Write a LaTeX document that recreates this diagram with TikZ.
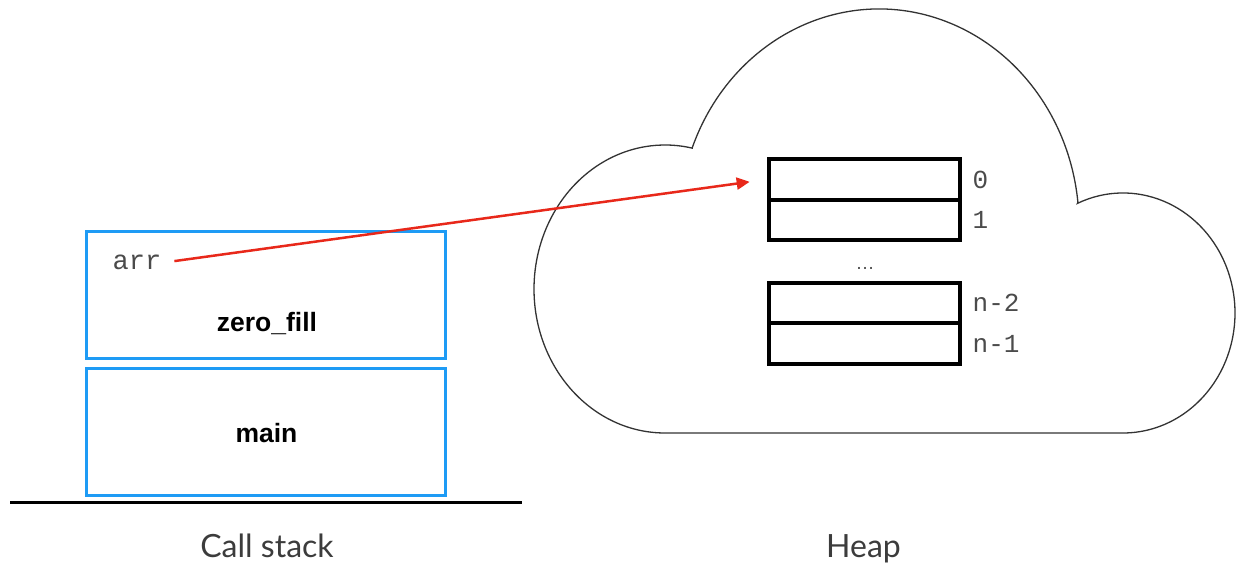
\documentclass[tikz,border=0pt]{standalone}
\usepackage{fontspec}
\setmainfont{Liberation Sans}
\newfontfamily\monof{Liberation Mono}
\newfontfamily\capf{Lato}
\usetikzlibrary{arrows.meta,positioning}

\definecolor{frameblue}{RGB}{30,155,245}
\definecolor{ptrred}{RGB}{232,40,26}
\definecolor{codegray}{RGB}{75,75,75}
\definecolor{capgray}{RGB}{60,60,60}

\tikzset{
  frame/.style={draw=frameblue, line width=3.2pt, minimum width=359pt,
    minimum height=127pt, inner sep=0pt},
  framename/.style={font=\fontsize{26.5}{30}\selectfont\bfseries, anchor=base,
    inner sep=0pt},
  cell/.style={draw=black, line width=4pt, minimum width=191pt,
    minimum height=40.5pt, inner sep=0pt},
  idx/.style={font=\monof\fontsize{26}{30}\selectfont, text=codegray,
    anchor=west, inner sep=0pt},
  caption/.style={font=\capf\fontsize{32}{36}\selectfont, text=capgray,
    anchor=base, inner sep=0pt},
  pointer/.style={draw=ptrred, line width=2.5pt,
    -{Triangle[length=13pt,width=12pt]}},
  cloudline/.style={draw=black!80, line width=1.3pt}
}

\begin{document}
\begin{tikzpicture}[x=1pt,y=1pt]
\useasboundingbox (0,0) rectangle (1236,567);

% heap cloud: three elliptical lobes and a flat bottom
\draw[cloudline]
  ([shift={(879,342)}]159:200 and 216) arc[start angle=159, end angle=6, x radius=200, y radius=216]
  -- ([shift={(1123,254)}]114:112 and 120) arc[start angle=114, end angle=-90, x radius=112, y radius=120]
  -- ([shift={(665,278)}]270:131 and 144) arc[start angle=270, end angle=78, x radius=131, y radius=144]
  -- cycle;

% call stack frames
\node[frame] (fzero) at (266,272) {};
\node[frame] (fmain) at (266,135) {};
\draw[line width=3pt] (10,64) -- (522,64);

\node[font=\monof\fontsize{27}{30}\selectfont, text=codegray, anchor=base,
  inner sep=0pt] (arr) at (137,297) {arr};
\node[framename] (zname) at (267,235) {zero\_fill};
\node[framename] (mname) at (266.5,124) {main};

% array on the heap
\node[cell] (c0) at (864,387.5) {};
\node[cell] (c1) at (864,347) {};
\node[cell] (c2) at (864,264) {};
\node[cell] (c3) at (864,223.5) {};
\node[font=\fontsize{19}{22}\selectfont, text=codegray, inner sep=0pt] (dots) at (865,299) {…};

\node[idx, right=11pt of c0] (i0) {0};
\node[idx, right=11pt of c1] (i1) {1};
\node[idx, right=11pt of c2] (i2) {n-2};
\node[idx, right=11pt of c3] (i3) {n-1};

% pointer from the local variable to the array
\draw[pointer, shorten <=13pt, shorten >=17pt] (arr.east) -- (c0.west);

% captions
\node[caption] (cs) at (267,9) {Call stack};
\node[caption] (hp) at (863.5,9) {Heap};
\end{tikzpicture}
\end{document}
